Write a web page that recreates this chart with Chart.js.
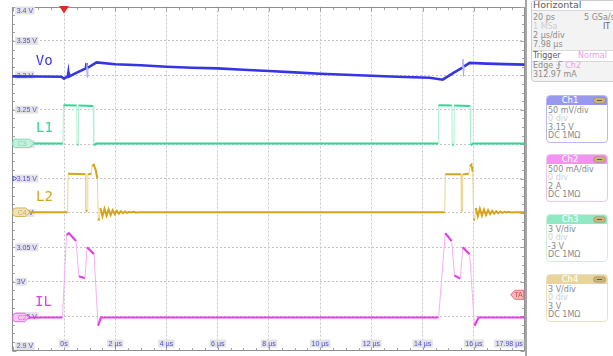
<!DOCTYPE html>
<html>
<head>
<meta charset="utf-8">
<title>Vo / L1 / L2 / IL</title>
<script src="https://cdn.jsdelivr.net/npm/chart.js@4.4.1/dist/chart.umd.min.js"></script>
<style>
  body { margin: 0; width: 613px; height: 356px; overflow: hidden; position: relative; background: #fff; font-family: "DejaVu Sans", sans-serif; }
  #plot { position: absolute; left: 0; top: 0; }
  #edge { position: absolute; left: 525px; top: 0; width: 2px; height: 356px; background: #a6a6a6; }
  .box { position: absolute; border: 1px solid #cdcdcd; border-radius: 4px; background: #f3f3f3; overflow: hidden; }
  .box span { position: absolute; white-space: nowrap; font-size: 8px; line-height: 9px; color: #8c8c8c; }
  .band { position: absolute; left: 0; right: 0; background: #fff; border-bottom: 1px solid #d8d8d8; }
  .box span.pale { color: #cfcfcf; }
  .ch { position: absolute; left: 546px; width: 60px; height: 46px; border: 1px solid; border-radius: 4px; background: #fff; overflow: hidden; }
  .ch .top { position: absolute; left: 0; top: 0; right: 0; height: 9px; }
  .ch .top b { position: absolute; left: 0; width: 46px; top: 0; text-align: center; font-weight: normal; color: #fff; font-size: 8.5px; line-height: 9px; }
  .ch .top i { position: absolute; right: 2px; top: 2px; width: 11px; height: 5px; border-radius: 2px; background: #c9b37c; box-shadow: 0 0 0 0.5px #9e8a58; }
  .ch .top i::after { content: ""; position: absolute; left: 3px; right: 3px; top: 2px; height: 1px; background: #6d5c34; }
  .ch span { position: absolute; left: 1px; font-size: 8px; line-height: 8px; color: #8a8a8a; white-space: nowrap; }
  .ch span.pale { color: #d0d0d0; }
</style>
</head>
<body>
<canvas id="plot" width="527" height="356"></canvas>
<div id="edge"></div>

<div class="box" style="left:531px;top:0;width:92px;height:80px;">
  <div class="band" style="top:0;height:9px;"></div>
  <span style="left:1px;top:-1px;font-size:9.5px;line-height:10px;color:#5c5c5c;">Horizontal</span>
  <span style="left:1px;top:11.5px;">20 ps</span>
  <span style="left:52px;top:11.5px;">5 GSa/s</span>
  <span class="pale" style="left:1px;top:20.5px;">1 MSa</span>
  <span style="left:71px;top:20.5px;color:#666;">IT</span>
  <span style="left:1px;top:29.5px;">2 µs/div</span>
  <span style="left:1px;top:39px;">7.98 µs</span>
  <div class="band" style="top:49px;height:10px;border-top:1px solid #d8d8d8;"></div>
  <span style="left:1px;top:50px;color:#5c5c5c;">Trigger</span>
  <span style="left:46px;top:50px;color:#e6a0e6;">Normal</span>
  <span style="left:1px;top:59.5px;">Edge <svg width="7" height="8" viewBox="0 0 7 8" style="vertical-align:-1px"><path d="M0 7.5H3V0.5H6.5" fill="none" stroke="#999" stroke-width="1"/><path d="M1.5 4.5L3 2.5L4.5 4.5" fill="none" stroke="#999" stroke-width="0.8"/></svg> <span style="position:static;color:#e6a0e6;">Ch2</span></span>
  <span style="left:1px;top:68.5px;">312.97 mA</span>
</div>

<div class="ch" style="top:95px;border-color:#b9b9f3;">
  <div class="top" style="background:#9898ee;"><b>Ch1</b><i></i></div>
  <span style="top:11px;">50 mV/div</span>
  <span class="pale" style="top:19.3px;">0 div</span>
  <span style="top:27.7px;">3.15 V</span>
  <span style="top:36px;">DC 1MΩ</span>
</div>
<div class="ch" style="top:154px;border-color:#e8c6e8;">
  <div class="top" style="background:#f293f2;"><b>Ch2</b><i></i></div>
  <span style="top:11px;">500 mA/div</span>
  <span class="pale" style="top:19.3px;">0 div</span>
  <span style="top:27.7px;">2 A</span>
  <span style="top:36px;">DC 1MΩ</span>
</div>
<div class="ch" style="top:214px;border-color:#cfeede;">
  <div class="top" style="background:#90e9c5;"><b>Ch3</b><i></i></div>
  <span style="top:11px;">3 V/div</span>
  <span class="pale" style="top:19.3px;">0 div</span>
  <span style="top:27.7px;">-3 V</span>
  <span style="top:36px;">DC 1MΩ</span>
</div>
<div class="ch" style="top:274px;border-color:#eadfc0;">
  <div class="top" style="background:#e9d59b;"><b>Ch4</b><i></i></div>
  <span style="top:11px;">3 V/div</span>
  <span class="pale" style="top:19.3px;">0 div</span>
  <span style="top:27.7px;">3 V</span>
  <span style="top:36px;">DC 1MΩ</span>
</div>

<script>
const xTicks = [0, 2, 4, 6, 8, 10, 12, 14, 16];
const xLabels = ['0s', '2 µs', '4 µs', '6 µs', '8 µs', '10 µs', '12 µs', '14 µs', '16 µs'];
const xEndLabel = '17.98 µs';
const yTicks = [3.4, 3.35, 3.3, 3.25, 3.2, 3.15, 3.1, 3.05, 3.0, 2.95, 2.9];
const yLabels = ['3.4 V', '3.35 V', '3.3 V', '3.25 V', '3.2 V', '3.15 V', '3.1 V', '3.05 V', '3V', '2.95 V', '2.9 V'];
const seriesNames = ['Vo', 'L1', 'L2', 'IL'];

const vo = [[-2.02, 3.2984], [-1.0, 3.2982], [-0.1, 3.2980], [0.0, 3.2950], [0.15, 3.2990], [0.17, 3.3040], [0.19, 3.2980],
  [0.5, 3.3040], [0.85, 3.3100], [0.88, 3.3180], [0.90, 3.2970], [0.93, 3.3110], [1.27, 3.3188], [2.0, 3.3160],
  [3.0, 3.3145], [4.0, 3.3125], [5.0, 3.3110], [6.0, 3.3100], [7.0, 3.3080], [8.0, 3.3062], [9.0, 3.3042],
  [10.0, 3.3023], [11.0, 3.3008], [12.0, 3.2994], [13.0, 3.2980], [14.27, 3.2965], [14.78, 3.2936], [15.2, 3.3035],
  [15.55, 3.3110], [15.57, 3.3235], [15.59, 3.2985], [15.62, 3.3130], [15.83, 3.3180], [16.5, 3.3170], [17.2, 3.3162], [17.98, 3.3155]];

const l1 = [[-2.02, 3.2010], [-0.04, 3.2010], [-0.02, 3.2565], [0.50, 3.2560], [0.51, 3.1990], [0.56, 3.1990], [0.57, 3.2560],
  [1.14, 3.2555], [1.16, 3.1985], [1.22, 3.1995], [1.26, 3.2010], [14.60, 3.2010], [14.62, 3.2565], [15.14, 3.2560],
  [15.15, 3.1990], [15.22, 3.1990], [15.23, 3.2560], [15.85, 3.2555], [15.87, 3.1985], [15.92, 3.1995], [15.96, 3.2010], [17.98, 3.2010]];

const l2 = [[-2.02, 3.101], [0.14, 3.101], [0.16, 3.157], [0.84, 3.156], [0.85, 3.103], [0.92, 3.103], [0.93, 3.156],
  [1.07, 3.157], [1.10, 3.168], [1.16, 3.170], [1.24, 3.162], [1.30, 3.150], [1.34, 3.089], [1.38, 3.092], [1.42, 3.107],
  [1.50, 3.095], [1.58, 3.106], [1.66, 3.096], [1.74, 3.105], [1.82, 3.097], [1.90, 3.104], [1.98, 3.098], [2.06, 3.103],
  [2.14, 3.099], [2.22, 3.1025], [2.30, 3.0995], [2.38, 3.102], [2.46, 3.100], [2.54, 3.1015], [2.62, 3.1005],
  [2.70, 3.1015], [2.80, 3.1005], [2.95, 3.101], [14.86, 3.101], [14.88, 3.156], [15.50, 3.156], [15.51, 3.103],
  [15.55, 3.103], [15.56, 3.156], [15.80, 3.157], [15.84, 3.168], [15.90, 3.170], [15.95, 3.160], [15.99, 3.089],
  [16.03, 3.092], [16.07, 3.107], [16.15, 3.095], [16.23, 3.106], [16.31, 3.096], [16.39, 3.105], [16.47, 3.097],
  [16.55, 3.104], [16.63, 3.098], [16.71, 3.103], [16.79, 3.099], [16.87, 3.1025], [16.95, 3.0995], [17.03, 3.102],
  [17.11, 3.100], [17.19, 3.1015], [17.27, 3.1005], [17.35, 3.1015], [17.45, 3.1005], [17.60, 3.101], [17.98, 3.101]];

const il = [[-2.02, 2.948], [-0.06, 2.948], [0.10, 3.068], [0.19, 3.0706], [0.47, 3.059], [0.58, 3.008], [0.82, 3.005],
  [0.90, 3.050], [1.17, 3.040], [1.33, 2.936], [1.44, 2.948], [14.62, 2.948], [14.88, 3.0706], [15.13, 3.059],
  [15.24, 3.009], [15.47, 3.0045], [15.56, 3.050], [15.83, 3.040], [16.02, 2.936], [16.18, 2.948], [17.98, 2.948]];

// marcadores de canal (nível de referência na mesma escala)
const chMarkers = [['C3', 3.201], ['C4', 3.101], ['C2', 2.948]];
const ch1Offset = 3.15;
const trigTime = 0;
const trigLevel = 2.981;

// ---- estilo ----
const colors = ['#3535e6', '#2fd993', '#d6a41c', '#e63ee6'];
const faint = ['#a8a8f4', '#aef0d2', '#ecd48e', '#f5b0f5'];
const widths = [2.6, 2, 2, 2.2];
const nameSpots = [[-1.1, 3.315], [-1.09, 3.218], [-1.09, 3.117], [-1.13, 2.9645]];
const pillStyle = {
  C3: { len: 21, fill: '#c2f2dc', stroke: '#7fdcb2', text: '#8fd0b0' },
  C4: { len: 17, fill: '#f1e3b6', stroke: '#d4b45e', text: '#c9ad66' },
  C2: { len: 16, fill: '#f6c9f6', stroke: '#e06ce0', text: '#d070d0' }
};

function steep(c) {
  return Math.abs(c.p1.y - c.p0.y) > 4 * Math.abs(c.p1.x - c.p0.x) + 3;
}

function trace(i, pts) {
  return {
    label: seriesNames[i],
    data: pts.map(p => ({ x: p[0], y: p[1] })),
    borderColor: colors[i],
    borderWidth: widths[i],
    pointRadius: 0,
    tension: 0,
    segment: {
      borderColor: c => steep(c) ? faint[i] : colors[i],
      borderWidth: c => steep(c) ? 1 : widths[i]
    }
  };
}

function tag(ctx, text, px, py, align) {
  const w = ctx.measureText(text).width;
  const left = align === 'left' ? px : align === 'right' ? px - w : px - w / 2;
  ctx.fillStyle = '#e3e3e3';
  ctx.fillRect(left - 1.5, py - 4, w + 3, 8);
  ctx.fillStyle = '#5151d6';
  ctx.textAlign = 'left';
  ctx.fillText(text, left, py + 0.5);
}

function pill(ctx, name, py) {
  const s = pillStyle[name];
  const x0 = 12.8, h = 8.5, r = 3;
  const tip = x0 + s.len;
  ctx.beginPath();
  ctx.moveTo(x0 + r, py - h / 2);
  ctx.lineTo(tip - 4, py - h / 2);
  ctx.lineTo(tip, py);
  ctx.lineTo(tip - 4, py + h / 2);
  ctx.lineTo(x0 + r, py + h / 2);
  ctx.arcTo(x0, py + h / 2, x0, py, r);
  ctx.arcTo(x0, py - h / 2, x0 + r, py - h / 2, r);
  ctx.closePath();
  ctx.fillStyle = s.fill;
  ctx.fill();
  ctx.strokeStyle = s.stroke;
  ctx.lineWidth = 1;
  ctx.stroke();
  ctx.fillStyle = s.text;
  ctx.font = '7px "Liberation Sans", sans-serif';
  ctx.textAlign = 'left';
  ctx.textBaseline = 'middle';
  ctx.fillText(name, x0 + 5, py + 0.5);
}

const scopeDecor = {
  id: 'scopeDecor',
  beforeDatasetsDraw(chart) {
    const { ctx, chartArea: a, scales: { x, y } } = chart;
    ctx.save();
    // moldura e marcas menores
    ctx.strokeStyle = '#8e8e8e';
    ctx.lineWidth = 1;
    const L = Math.round(a.left) + 0.5, T = Math.round(a.top) + 0.5;
    const R = Math.round(a.right) - 0.5, B = Math.round(a.bottom) - 0.5;
    ctx.strokeRect(L, T, R - L, B - T);
    ctx.strokeStyle = '#a0a0a0';
    ctx.beginPath();
    for (let k = 0; k <= 40; k++) {
      const py = Math.round(y.getPixelForValue(2.9 + k * 0.0125)) + 0.5;
      const len = k % 4 === 0 ? 4 : 2.5;
      ctx.moveTo(L, py); ctx.lineTo(L + len, py);
      ctx.moveTo(R, py); ctx.lineTo(R - len, py);
    }
    for (let k = 0; k <= 40; k++) {
      const px = Math.round(x.getPixelForValue(-2 + k * 0.5)) + 0.5;
      const len = k % 4 === 0 ? 4 : 2.5;
      ctx.moveTo(px, B); ctx.lineTo(px, B - len);
      ctx.moveTo(px, T); ctx.lineTo(px, T + len);
    }
    ctx.stroke();
    // rótulos das escalas, dentro da área
    ctx.font = '7px "Liberation Sans", sans-serif';
    ctx.textBaseline = 'middle';
    yTicks.forEach((v, i) => {
      const py = Math.min(Math.max(y.getPixelForValue(v), a.top + 4), a.bottom - 4.5);
      tag(ctx, yLabels[i], a.left + 4.5, py, 'left');
    });
    xTicks.forEach((v, i) => tag(ctx, xLabels[i], x.getPixelForValue(v), a.bottom - 7, 'center'));
    tag(ctx, xEndLabel, a.right - 2, a.bottom - 7, 'right');
    ctx.restore();
  },
  afterDatasetsDraw(chart) {
    const { ctx, chartArea: a, scales: { x, y } } = chart;
    ctx.save();
    chMarkers.forEach(m => pill(ctx, m[0], y.getPixelForValue(m[1])));

    // seta do offset do Ch1
    const oy = y.getPixelForValue(ch1Offset);
    ctx.beginPath();
    ctx.moveTo(a.left + 0.8, oy - 2.5);
    ctx.lineTo(a.left + 4.5, oy);
    ctx.lineTo(a.left + 0.8, oy + 2.5);
    ctx.closePath();
    ctx.fillStyle = '#fff';
    ctx.fill();
    ctx.strokeStyle = '#4b4bd8';
    ctx.lineWidth = 1;
    ctx.stroke();

    // posição do trigger (topo)
    const tx = x.getPixelForValue(trigTime);
    ctx.beginPath();
    ctx.moveTo(tx - 5, a.top - 0.5);
    ctx.lineTo(tx + 5, a.top - 0.5);
    ctx.lineTo(tx, a.top + 7);
    ctx.closePath();
    ctx.fillStyle = '#e12a2a';
    ctx.fill();

    // nível do trigger (direita)
    const ty = y.getPixelForValue(trigLevel);
    const rx = a.right - 1;
    ctx.beginPath();
    ctx.moveTo(rx - 13, ty);
    ctx.lineTo(rx - 9, ty - 4.5);
    ctx.lineTo(rx, ty - 4.5);
    ctx.lineTo(rx, ty + 4.5);
    ctx.lineTo(rx - 9, ty + 4.5);
    ctx.closePath();
    ctx.fillStyle = '#f6b8b8';
    ctx.fill();
    ctx.strokeStyle = '#e07474';
    ctx.stroke();
    ctx.fillStyle = '#c24848';
    ctx.font = '7px "Liberation Sans", sans-serif';
    ctx.textAlign = 'left';
    ctx.textBaseline = 'middle';
    ctx.fillText('TA', rx - 9.5, ty + 0.5);

    // nomes dos sinais
    ctx.font = '14px "DejaVu Sans Mono", monospace';
    ctx.textBaseline = 'alphabetic';
    seriesNames.forEach((n, i) => {
      ctx.fillStyle = colors[i];
      ctx.fillText(n, x.getPixelForValue(nameSpots[i][0]), y.getPixelForValue(nameSpots[i][1]));
    });
    ctx.restore();
  }
};

const grade = { color: '#c6c6c6', lineWidth: 1, drawTicks: false };

new Chart(document.getElementById('plot'), {
  type: 'line',
  data: { datasets: [trace(0, vo), trace(1, l1), trace(2, l2), trace(3, il)] },
  options: {
    responsive: false,
    devicePixelRatio: 1,
    animation: false,
    layout: { padding: { left: 12.25, right: 2.3, top: 6.5, bottom: 5.5 } },
    plugins: { legend: { display: false }, tooltip: { enabled: false } },
    scales: {
      x: {
        type: 'linear', min: -2.02, max: 17.98,
        afterBuildTicks: s => { s.ticks = xTicks.map(v => ({ value: v })); },
        afterFit: s => { s.height = 0; },
        ticks: { display: false },
        grid: grade,
        border: { display: false, dash: [2, 2] }
      },
      y: {
        type: 'linear', min: 2.9, max: 3.4,
        afterBuildTicks: s => { s.ticks = yTicks.slice(1, -1).map(v => ({ value: v })); },
        afterFit: s => { s.width = 0; },
        ticks: { display: false },
        grid: grade,
        border: { display: false, dash: [2, 2] }
      }
    }
  },
  plugins: [scopeDecor]
});
</script>
</body>
</html>
